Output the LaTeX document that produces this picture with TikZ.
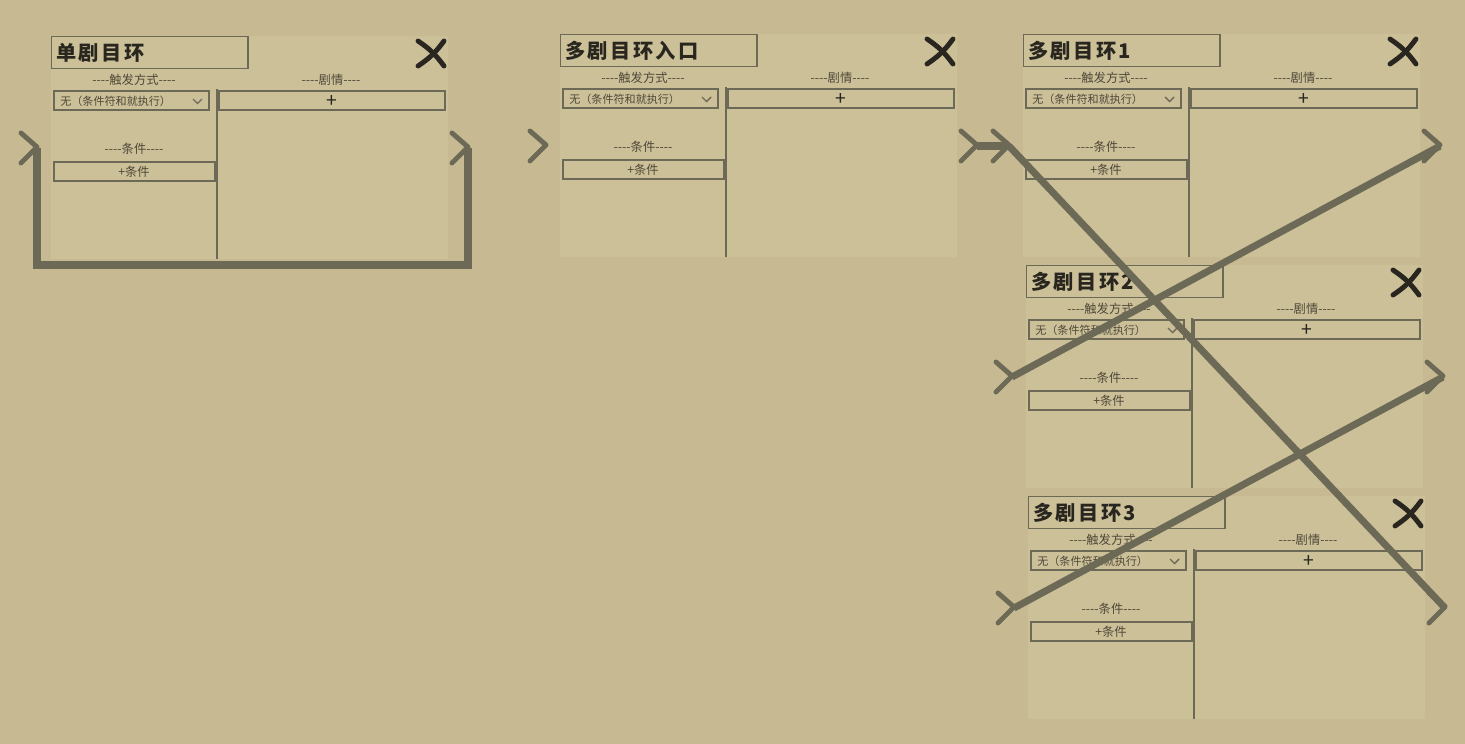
\documentclass[tikz,border=0pt]{standalone}
\usepackage{fontspec}
\usepackage{tikz}
\newfontfamily\cjk{Noto Sans CJK SC}
\newfontfamily\cjktitle[LetterSpace=12]{Noto Sans CJK SC}
\definecolor{parch}{RGB}{199,185,145}
\definecolor{paper}{RGB}{204,192,153}
\definecolor{dolive}{RGB}{108,106,86}
\definecolor{dink}{RGB}{40,38,30}
\definecolor{dtext}{RGB}{78,72,56}

\begin{document}
\begin{tikzpicture}[x=0.02cm, y=-0.02cm,
    every node/.style={inner sep=0pt, font=\cjk},
    box/.style={draw=dolive, line width=1.1pt},
    wire/.style={draw=dolive, line width=4pt},
    chev/.style={draw=dolive, line width=2.8pt, line cap=round, line join=round},
    closex/.style={draw=dink, line width=2.8pt, line cap=round},
    small/.style={text=dtext, font=\cjk\fontsize{7}{8}\selectfont}]
\useasboundingbox (0,0) rectangle (1465,744);
\fill[parch] (0,0) rectangle (1465,744);
\foreach \n/\x/\y/\t in {s/51/36/单剧目环, e/560/34/多剧目环入口, a/1023/34/多剧目环1, b/1026/265/多剧目环2, c/1028/496/多剧目环3} {
  \begin{scope}[shift={(\x,\y)}]
    \fill[paper] (0,0) rectangle (397,223);
    \draw[box] (0.5,0.5) rectangle (197,32.5);
    \node[anchor=west, text=dink, font=\cjktitle\bfseries\fontsize{11.5}{12}\selectfont] (\n-title) at (5,17) {\t};
    \draw[closex] (367,5) to[bend left=10] (393,30);
    \draw[closex] (393,5) to[bend left=10] (367,30);
    \node[small] (\n-trig) at (83,44) {----触发方式----};
    \draw[box] (3,55) rectangle (158,74);
    \node[anchor=west, text=dtext, font=\cjk\fontsize{6.3}{7}\selectfont] (\n-mode) at (9,65) {无（条件符和就执行）};
    \draw[dolive, line width=0.8pt] (142,63) -- (146.5,67.5) -- (151,63);
    \draw[dolive, line width=1.1pt] (166,53) -- (166,223);
    \node[small] (\n-plot) at (280,44) {----剧情----};
    \draw[box] (168,55) rectangle (394,74);
    \node[text=dink, font=\cjk\fontsize{11}{12}\selectfont] (\n-add) at (281,65) {+};
    \node[small] (\n-cond) at (83,113) {----条件----};
    \draw[box] (3,126) rectangle (164,145);
    \node[small] (\n-addc) at (83,135.5) {+条件};
    \coordinate (\n-in) at (-14,112);
    \coordinate (\n-out) at (417,112);
    \draw[chev] (-30,97) -- (-14,111) -- (-30,127);
    \draw[chev] (401,97) -- (417,111) -- (401,127);
  \end{scope}
}
% links
\draw[wire] (s-out) -- ++(0,117) -| (s-in);
\draw[wire] (e-out) -- (a-in);
\draw[wire] (a-out) -- (b-in);
\draw[wire] (b-out) -- (c-in);
\draw[wire] (c-out) -- (a-in);
\end{tikzpicture}
\end{document}
